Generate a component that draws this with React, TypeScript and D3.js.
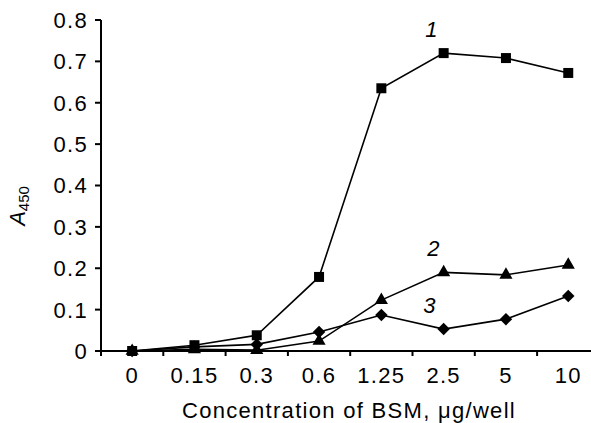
import React from "react";
import * as d3 from "d3";

const W = 591;
const H = 423;
const FONT = "Liberation Sans, Arial, sans-serif";

const concentrations = ["0", "0.15", "0.3", "0.6", "1.25", "2.5", "5", "10"];
const yTicks = [0, 0.1, 0.2, 0.3, 0.4, 0.5, 0.6, 0.7, 0.8];

// curve 1 (squares), 2 (triangles), 3 (diamonds)
const curve1 = [0, 0.014, 0.038, 0.179, 0.635, 0.72, 0.708, 0.672];
const curve2 = [0, 0.004, 0.002, 0.024, 0.123, 0.19, 0.184, 0.208];
const curve3 = [0, 0.01, 0.016, 0.046, 0.087, 0.053, 0.077, 0.133];

const series = [
  { id: "1", values: curve1, marker: "square" },
  { id: "2", values: curve2, marker: "triangle" },
  { id: "3", values: curve3, marker: "diamond" },
];

const curveLabels = [
  { text: "1", at: "1.25", value: 0.76, dx: 50 },
  { text: "2", at: "1.25", value: 0.23, dx: 52 },
  { text: "3", at: "1.25", value: 0.093, dx: 48 },
];

// wide diamond, like the original's rotated square
const diamondType = {
  draw(ctx: any, size: number) {
    const r = Math.sqrt(size) / 1.6;
    ctx.moveTo(0, -r);
    ctx.lineTo(r, 0);
    ctx.lineTo(0, r);
    ctx.lineTo(-r, 0);
    ctx.closePath();
  },
};

export default function App() {
  const left = 101;
  const top = 20;
  const bottom = 351;

  const x = d3.scaleBand().domain(concentrations).range([left, left + 62.3 * 8]).padding(0);
  const y = d3.scaleLinear().domain([0, 0.8]).range([bottom, top]);
  const cx = (c: string) => (x(c) as number) + x.bandwidth() / 2;

  const line = d3
    .line<number>()
    .x((_, i) => cx(concentrations[i]))
    .y((d) => y(d));

  const symbols: Record<string, any> = {
    square: d3.symbol().type(d3.symbolSquare).size(100),
    triangle: d3.symbol().type(d3.symbolTriangle).size(75),
    diamond: d3.symbol().type(diamondType as any).size(100),
  };

  const boundaries = d3.range(concentrations.length + 1).map((i) => left + x.bandwidth() * i);
  const txt = { fontSize: 22, letterSpacing: 1.3 };

  return (
    <svg
      width={W}
      height={H}
      style={{ position: "absolute", left: 0, top: 0, background: "#fff" }}
      fontFamily={FONT}
    >
      {/* y axis */}
      <line x1={left} x2={left} y1={top} y2={bottom + 5} stroke="#000" strokeWidth={2} />
      {yTicks.map((t) => (
        <g key={t}>
          <line x1={left - 6} x2={left} y1={y(t)} y2={y(t)} stroke="#000" strokeWidth={2} />
          <text x={88} y={y(t)} dy="0.36em" textAnchor="end" {...txt}>
            {t === 0 ? "0" : t.toFixed(1)}
          </text>
        </g>
      ))}
      {/* x axis */}
      <line x1={left} x2={W} y1={bottom} y2={bottom} stroke="#000" strokeWidth={2} />
      {boundaries.map((b, i) => (
        <line key={i} x1={b} x2={b} y1={bottom} y2={bottom + 5} stroke="#000" strokeWidth={2} />
      ))}
      {concentrations.map((c) => (
        <text key={c} x={cx(c)} y={383} textAnchor="middle" {...txt}>
          {c}
        </text>
      ))}
      <text x={349} y={418} textAnchor="middle" {...txt}>
        Concentration of BSM, μg/well
      </text>
      <text transform={`translate(25,206) rotate(-90)`} textAnchor="middle" fontSize={22}>
        <tspan fontStyle="italic">A</tspan>
        <tspan fontSize={15} dy={4}>450</tspan>
      </text>

      {series.map((s) => (
        <g key={s.id}>
          <path d={line(s.values) ?? ""} fill="none" stroke="#000" strokeWidth={1.6} />
          {s.values.map((v, i) => (
            <path
              key={i}
              transform={`translate(${cx(concentrations[i])},${y(v)})`}
              d={symbols[s.marker]()}
              fill="#000"
            />
          ))}
        </g>
      ))}

      {curveLabels.map((l) => (
        <text
          key={l.text}
          x={cx(l.at) + l.dx}
          y={y(l.value)}
          fontSize={22}
          fontStyle="italic"
          textAnchor="middle"
        >
          {l.text}
        </text>
      ))}
    </svg>
  );
}
